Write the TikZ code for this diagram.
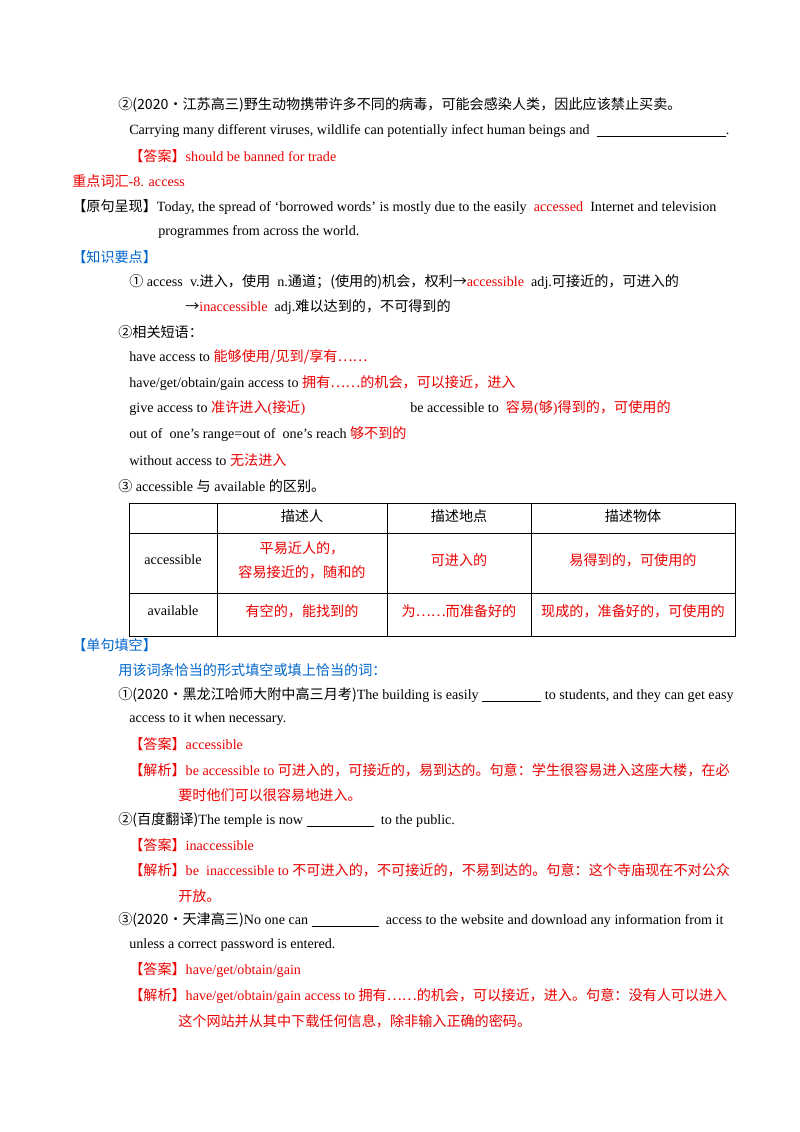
\documentclass[tikz,border=0pt]{standalone}
\usepackage{fontspec}
\setmainfont{Liberation Serif}
\newfontfamily\cjk{Noto Sans CJK SC}
\newcommand\zh[1]{{\cjk #1}}
\definecolor{ansred}{RGB}{235,0,0}
\definecolor{hdblue}{RGB}{0,102,204}
\begin{document}
\begin{tikzpicture}[x=0.74375pt,y=-0.74375pt,
  txt/.style={anchor=west,inner sep=0pt,font=\fontsize{10.5pt}{12pt}\selectfont},
  red/.style={txt,text=ansred},
  blue/.style={txt,text=hdblue},
  cell/.style={inner sep=0pt,align=center,font=\fontsize{10.5pt}{18pt}\selectfont}]
\useasboundingbox (0,0) rectangle (800,1132);
\fill[white] (0,0) rectangle (800,1132);
\node[txt] (l1) at (118,105) {\zh{②(2020·江苏高三)野生动物携带许多不同的病毒，可能会感染人类，因此应该禁止买卖。}};
\node[txt] (l2) at (129,131) {Carrying many different viruses, wildlife can potentially infect human beings and\ \ \rule[-1.5pt]{96pt}{0.4pt}.};
\node[red] (l3) at (129,156) {\zh{【答案】}should be banned for trade};
\node[red] (l4) at (72,181) {\zh{重点词汇}-8. access};
\node[txt] (l5) at (72,207) {\zh{【原句呈现】}Today, the spread of ‘borrowed words’ is mostly due to the easily\ \ \textcolor{ansred}{accessed}\ \ Internet and television};
\node[txt] (l6) at (158,232) {programmes from across the world.};
\node[blue] (l7) at (72,257) {\zh{【知识要点】}};
\node[txt] (l8) at (129,282) {\zh{①} access\ \ v.\zh{进入，使用}\ \ n.\zh{通道；(使用的)机会，权利→}\textcolor{ansred}{accessible}\ \ adj.\zh{可接近的，可进入的}};
\node[txt] (l9) at (185,307) {\zh{→}\textcolor{ansred}{inaccessible}\ \ adj.\zh{难以达到的，不可得到的}};
\node[txt] (l10) at (118,332) {\zh{②相关短语：}};
\node[txt] (l11) at (129,357) {have access to \textcolor{ansred}{\zh{能够使用/见到/享有……}}};
\node[txt] (l12) at (129,383) {have/get/obtain/gain access to \textcolor{ansred}{\zh{拥有……的机会，可以接近，进入}}};
\node[txt] (l13) at (129,408) {give access to \textcolor{ansred}{\zh{准许进入}(\zh{接近})}};
\node[txt] (l13b) at (410,408) {be accessible to\ \ \textcolor{ansred}{\zh{容易}(\zh{够})\zh{得到的，可使用的}}};
\node[txt] (l14) at (129,434) {out of\ \ one’s range=out of\ \ one’s reach \textcolor{ansred}{\zh{够不到的}}};
\node[txt] (l15) at (129,460) {without access to \textcolor{ansred}{\zh{无法进入}}};
\node[txt] (l16) at (118,486) {\zh{③} accessible \zh{与} available \zh{的区别。}};
% table
\draw[line width=0.6pt] (129,503) rectangle (735,636);
\draw[line width=0.6pt] (129,533) -- (735,533) (129,593) -- (735,593);
\draw[line width=0.6pt] (217,503) -- (217,636) (387,503) -- (387,636) (531,503) -- (531,636);
\node[cell] (h1) at (302,516) {\zh{描述人}};
\node[cell] (h2) at (459,516) {\zh{描述地点}};
\node[cell] (h3) at (633,516) {\zh{描述物体}};
\node[cell] (r1) at (173,560) {accessible};
\node[cell,text=ansred] (c11) at (302,560) {\zh{平易近人的，}\\\zh{容易接近的，随和的}};
\node[cell,text=ansred] (c12) at (459,560) {\zh{可进入的}};
\node[cell,text=ansred] (c13) at (633,560) {\zh{易得到的，可使用的}};
\node[cell] (r2) at (173,611) {available};
\node[cell,text=ansred] (c21) at (302,611) {\zh{有空的，能找到的}};
\node[cell,text=ansred] (c22) at (459,611) {\zh{为……而准备好的}};
\node[cell,text=ansred] (c23) at (633,611) {\zh{现成的，准备好的，可使用的}};
\node[blue] (l17) at (72,645) {\zh{【单句填空】}};
\node[blue] (l18) at (118,670) {\zh{用该词条恰当的形式填空或填上恰当的词：}};
\node[txt] (l19) at (118,695) {\zh{①(2020·黑龙江哈师大附中高三月考)}The building is easily \rule[-1.5pt]{44pt}{0.4pt}\ to students, and they can get easy};
\node[txt] (l20) at (129,719) {access to it when necessary.};
\node[red] (l21) at (129,744) {\zh{【答案】}accessible};
\node[red] (l22) at (129,770) {\zh{【解析】}be accessible to \zh{可进入的，可接近的，易到达的。句意：学生很容易进入这座大楼，在必}};
\node[red] (l23) at (178,795) {\zh{要时他们可以很容易地进入。}};
\node[txt] (l24) at (118,820) {\zh{②(百度翻译)}The temple is now \rule[-1.5pt]{50pt}{0.4pt}\ \ to the public.};
\node[red] (l25) at (129,845) {\zh{【答案】}inaccessible};
\node[red] (l26) at (129,870) {\zh{【解析】}be\ \ inaccessible to \zh{不可进入的，不可接近的，不易到达的。句意：这个寺庙现在不对公众}};
\node[red] (l27) at (178,896) {\zh{开放。}};
\node[txt] (l28) at (118,920) {\zh{③(2020·天津高三)}No one can \rule[-1.5pt]{50pt}{0.4pt}\ \ access to the website and download any information from it};
\node[txt] (l29) at (129,945) {unless a correct password is entered.};
\node[red] (l30) at (129,970) {\zh{【答案】}have/get/obtain/gain};
\node[red] (l31) at (129,996) {\zh{【解析】}have/get/obtain/gain access to \zh{拥有……的机会，可以接近，进入。句意：没有人可以进入}};
\node[red] (l32) at (178,1021) {\zh{这个网站并从其中下载任何信息，除非输入正确的密码。}};
\end{tikzpicture}
\end{document}
